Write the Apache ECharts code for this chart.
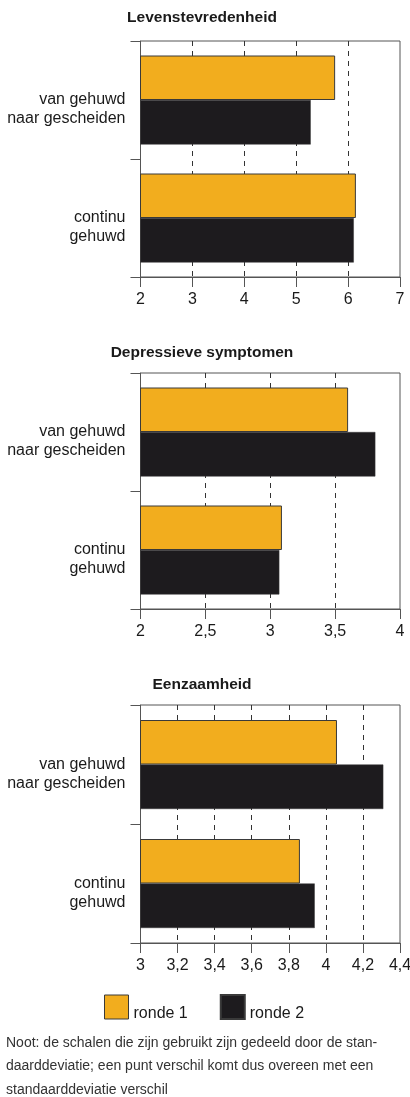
<!DOCTYPE html>
<html>
<head>
<meta charset="utf-8">
<script src="https://cdn.jsdelivr.net/npm/echarts@6/dist/echarts.min.js"></script>
<style>
html,body{margin:0;padding:0;background:#fff;}
#c{width:410px;height:1097px;}
</style>
</head>
<body>
<div id="c"></div>
<script>
var categories = ['van gehuwd\nnaar gescheiden', 'continu\ngehuwd'];
var titles = ['Levenstevredenheid', 'Depressieve symptomen', 'Eenzaamheid'];
var seriesNames = ['ronde 1', 'ronde 2'];
// chart 1: Levenstevredenheid
var leven1 = [5.75, 6.15];
var leven2 = [5.28, 6.11];
// chart 2: Depressieve symptomen
var depr1 = [3.60, 3.09];
var depr2 = [3.81, 3.07];
// chart 3: Eenzaamheid
var eenz1 = [4.06, 3.86];
var eenz2 = [4.31, 3.94];
// x-axis scales
var axisMin = [2, 2, 3];
var axisMax = [7, 4, 4.4];
var axisStep = [1, 0.5, 0.2];
var noteLines = [
  'Noot: de schalen die zijn gebruikt zijn gedeeld door de stan-',
  'daarddeviatie; een punt verschil komt dus overeen met een',
  'standaarddeviatie verschil'
];

var FONT = '"Liberation Sans", Arial, sans-serif';
var ORANGE = '#F2AD1E';
var BLACK = '#1D1B1E';
var AXIS = '#555555';

var gridTops = [41, 373, 705];
var gridHeights = [236, 236, 238];
var titleTops = [10, 345, 677];
var data1 = [leven1, depr1, eenz1];
var data2 = [leven2, depr2, eenz2];

var grids = [], xAxes = [], yAxes = [], series = [], titleOpts = [];
for (var i = 0; i < 3; i++) {
  grids.push({left: 140.5, width: 259.5, top: gridTops[i], height: gridHeights[i],
    show: true, borderColor: AXIS, borderWidth: 1, backgroundColor: 'transparent',
    containLabel: false, outerBoundsMode: 'none'});
  titleOpts.push({text: titles[i], left: 202, textAlign: 'center', top: titleTops[i], padding: 0,
    textStyle: {fontFamily: FONT, fontSize: 15.5, fontWeight: 'bold', color: '#1a1a1a'}});
  xAxes.push({type: 'value', gridIndex: i, min: axisMin[i], max: axisMax[i], interval: axisStep[i],
    axisLine: {show: true, lineStyle: {color: AXIS, width: 1}},
    axisTick: {show: true, length: 10, lineStyle: {color: AXIS, width: 1}},
    axisLabel: {fontFamily: FONT, fontSize: 16, color: '#1a1a1a', margin: 15, hideOverlap: false,
      formatter: function (v) { return String(+v.toFixed(2)).replace('.', ','); }},
    splitLine: {show: true, showMinLine: false, showMaxLine: false,
      lineStyle: {color: '#333', type: [5, 5], width: 1}}
  });
  yAxes.push({type: 'category', gridIndex: i, data: categories, inverse: true,
    axisLine: {show: true, lineStyle: {color: AXIS, width: 1}},
    axisTick: {show: true, length: 10, alignWithLabel: false, lineStyle: {color: AXIS, width: 1}},
    axisLabel: {fontFamily: FONT, fontSize: 16, color: '#1a1a1a', margin: 15, lineHeight: 19,
      align: 'right', formatter: function (v) { return '\n' + v; }},
    splitLine: {show: false}
  });
  series.push({name: seriesNames[0], type: 'bar', xAxisIndex: i, yAxisIndex: i, data: data1[i],
    barWidth: 44.5, barGap: '0%',
    itemStyle: {color: ORANGE, borderColor: '#3a3a3a', borderWidth: 1}, silent: true});
  series.push({name: seriesNames[1], type: 'bar', xAxisIndex: i, yAxisIndex: i, data: data2[i],
    barWidth: 44.5, barGap: '0%',
    itemStyle: {color: BLACK, borderColor: '#3a3a3a', borderWidth: 0.5}, silent: true});
}

var graphics = [];
for (var k = 0; k < noteLines.length; k++) {
  graphics.push({type: 'text', left: 6, top: 1036 + k * 23.5,
    style: {text: noteLines[k], font: '14px ' + FONT, fill: '#333'}});
}

var chart = echarts.init(document.getElementById('c'), null, {renderer: 'canvas'});
chart.setOption({
  animation: false,
  backgroundColor: '#fff',
  title: titleOpts,
  grid: grids,
  xAxis: xAxes,
  yAxis: yAxes,
  series: series,
  legend: {
    data: [
      {name: seriesNames[0], itemStyle: {color: ORANGE, borderColor: '#3a3a3a', borderWidth: 1}},
      {name: seriesNames[1], itemStyle: {color: BLACK}}
    ],
    left: 104, top: 994, padding: 0, itemWidth: 24, itemHeight: 24, itemGap: 32, icon: 'rect',
    formatter: function (n) { return '{a|' + n + '}'; },
    textStyle: {fontFamily: FONT, fontSize: 16, color: '#1a1a1a',
      rich: {a: {fontFamily: FONT, fontSize: 16, color: '#1a1a1a', padding: [14, 0, 0, 0]}}},
    selectedMode: false
  },
  graphic: graphics
});
</script>
</body>
</html>
